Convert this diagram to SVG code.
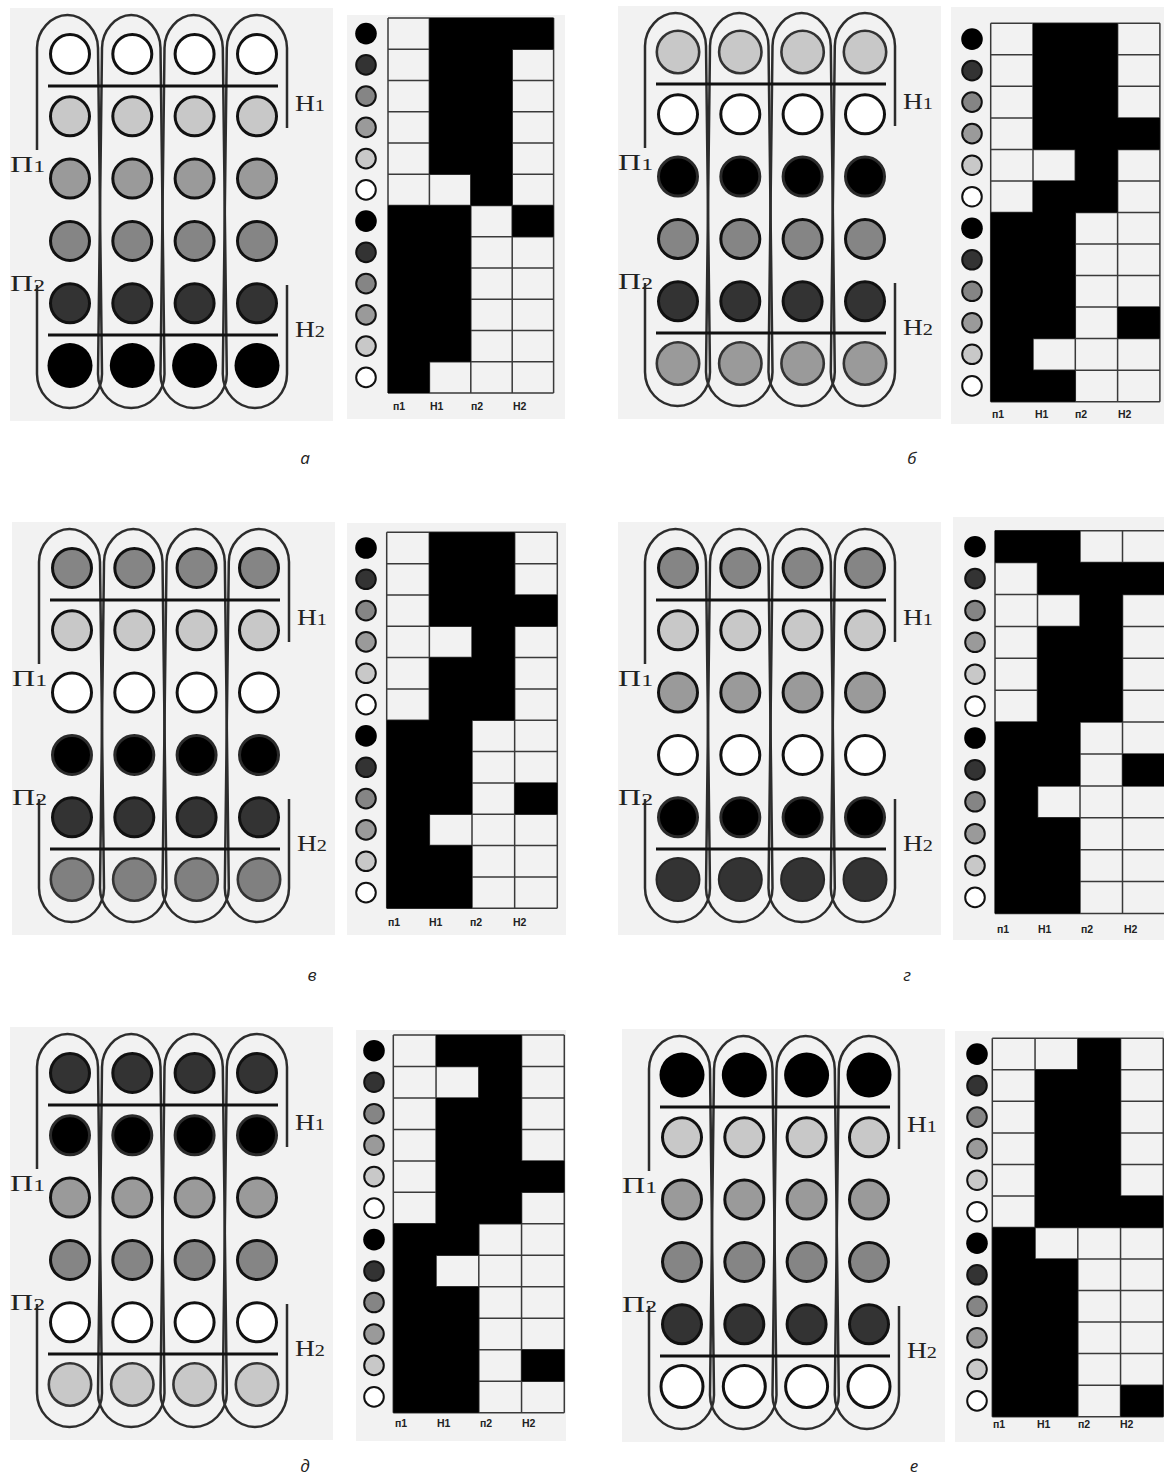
<svg xmlns="http://www.w3.org/2000/svg" xmlns:xlink="http://www.w3.org/1999/xlink" width="1164" height="1477" viewBox="0 0 1164 1477">
<style>
.bg{fill:#f2f2f2}
.loop{fill:none;stroke:#2d2d2d;stroke-width:2.5}
.hl{fill:none;stroke:#111;stroke-width:3}
.ck{stroke:#111;stroke-width:3}
.ckB{stroke:#2a2a2a;stroke-width:3}
.big{stroke:#333;stroke-width:2.6}
.fB{fill:#000}.fD{fill:#333}.fM{fill:#858585}.fG{fill:#9a9a9a}.fL{fill:#c8c8c8}.fW{fill:#fff}
.lg{stroke:#111;stroke-width:2}
.lab{font-family:"Liberation Serif","Times New Roman",serif;font-size:23px;fill:#222}
.sub{font-size:17px}
.col{font-family:"Liberation Sans",Arial,sans-serif;font-weight:bold;font-size:10.5px;fill:#222}
.cap{font-family:"Open Sans","DejaVu Sans",sans-serif;font-style:italic;font-size:17px;fill:#222;text-anchor:middle}
.cell{fill:#f2f2f2}
.blk{fill:#000}
.grid{fill:none;stroke:#3a3a3a;stroke-width:1.5;vector-effect:non-scaling-stroke}
</style>
<defs>
<circle id="cW" r="19.5" class="fW ck"/>
<circle id="cL" r="19.5" class="fL ck"/>
<circle id="cG" r="19.5" class="fG ck"/>
<circle id="cM" r="19.5" class="fM ck"/>
<circle id="cD" r="19.5" class="fD ck"/>
<circle id="cB" r="19.5" class="fB ckB"/>
<circle id="bB" r="22.5" class="fB"/>
<circle id="bL" r="21.2" class="fL big"/>
<circle id="bG" r="21.2" class="fG big"/>
<circle id="bM" r="21.2" fill="#808080" class="big"/>
<circle id="bD" r="21.5" fill="#333" stroke="#262626" stroke-width="2"/>
<circle id="bW" r="21" class="fW ck"/>
<g id="rW"><use href="#cW"/><use href="#cW" x="62.3"/><use href="#cW" x="124.6"/><use href="#cW" x="187"/></g>
<g id="rL"><use href="#cL"/><use href="#cL" x="62.3"/><use href="#cL" x="124.6"/><use href="#cL" x="187"/></g>
<g id="rG"><use href="#cG"/><use href="#cG" x="62.3"/><use href="#cG" x="124.6"/><use href="#cG" x="187"/></g>
<g id="rM"><use href="#cM"/><use href="#cM" x="62.3"/><use href="#cM" x="124.6"/><use href="#cM" x="187"/></g>
<g id="rD"><use href="#cD"/><use href="#cD" x="62.3"/><use href="#cD" x="124.6"/><use href="#cD" x="187"/></g>
<g id="rB"><use href="#cB"/><use href="#cB" x="62.3"/><use href="#cB" x="124.6"/><use href="#cB" x="187"/></g>
<g id="rbB"><use href="#bB"/><use href="#bB" x="62.3"/><use href="#bB" x="124.6"/><use href="#bB" x="187"/></g>
<g id="rbL"><use href="#bL"/><use href="#bL" x="62.3"/><use href="#bL" x="124.6"/><use href="#bL" x="187"/></g>
<g id="rbG"><use href="#bG"/><use href="#bG" x="62.3"/><use href="#bG" x="124.6"/><use href="#bG" x="187"/></g>
<g id="rbM"><use href="#bM"/><use href="#bM" x="62.3"/><use href="#bM" x="124.6"/><use href="#bM" x="187"/></g>
<g id="rbD"><use href="#bD"/><use href="#bD" x="62.3"/><use href="#bD" x="124.6"/><use href="#bD" x="187"/></g>
<g id="rbW"><use href="#bW"/><use href="#bW" x="62.3"/><use href="#bW" x="124.6"/><use href="#bW" x="187"/></g>
<g id="frame">
<rect class="bg" x="-60" y="-46" width="323" height="413"/>
<path class="loop" d="M-33,96 L-33,-6 C-33,-23 -19,-39 -2.5,-39 C14,-39 28,-23 28,-6 L32,320 C32,338 18,354 -0.5,354 C-19,354 -33,338 -33,320 L-33,231"/>
<path class="loop" d="M28,320 L32,-6 C32,-23 45.5,-39 61.25,-39 C77,-39 90.5,-23 90.5,-6 L94.5,320 C94.5,338 80,354 61.25,354 C42.5,354 28,338 28,320 Z"/>
<path class="loop" d="M90.5,320 L94.5,-6 C94.5,-23 108,-39 123.65,-39 C139.3,-39 152.8,-23 152.8,-6 L156.8,320 C156.8,338 142.3,354 123.65,354 C105,354 90.5,338 90.5,320 Z"/>
<path class="loop" d="M217,74 L217,-6 C217,-23 203.5,-39 186.9,-39 C170.3,-39 156.8,-23 156.8,-6 L152.8,320 C152.8,338 167,354 184.9,354 C202.8,354 217,338 217,320 L217,231"/>
<path class="hl" d="M-22,32 H208 M-22,281 H208"/>
<text class="lab" x="-60" y="118" textLength="35" lengthAdjust="spacingAndGlyphs">П<tspan class="sub">1</tspan></text>
<text class="lab" x="-60" y="237" textLength="35" lengthAdjust="spacingAndGlyphs">П<tspan class="sub">2</tspan></text>
<text class="lab" x="225" y="57" textLength="30" lengthAdjust="spacingAndGlyphs">Н<tspan class="sub">1</tspan></text>
<text class="lab" x="225" y="283" textLength="30" lengthAdjust="spacingAndGlyphs">Н<tspan class="sub">2</tspan></text>
</g>
<path id="gridp" class="grid" d="M0,0V12M1,0V12M2,0V12M3,0V12M4,0V12M0,0H4M0,1H4M0,2H4M0,3H4M0,4H4M0,5H4M0,6H4M0,7H4M0,8H4M0,9H4M0,10H4M0,11H4M0,12H4"/>
</defs>
<rect width="1164" height="1477" fill="#fff"/>

<!-- Panel а -->
<g id="scheme-a" transform="translate(70,54)">
<use href="#frame"/>
<use href="#rW"/><use href="#rL" y="62.3"/><use href="#rG" y="124.6"/><use href="#rM" y="187"/><use href="#rD" y="249.3"/><use href="#rbB" y="311.5"/>
</g>
<g id="table-a">
<rect class="bg" x="347" y="15" width="218" height="404"/>
<g transform="translate(388,18) scale(41.4,31.25)">
<rect class="cell" width="4" height="12"/>
<use href="#gridp"/>
<path class="blk" d="M0,6h1v6h-1z M1,0h1v5h-1z M1,6h1v5h-1z M2,0h1v6h-1z M3,0h1v1h-1z M3,6h1v1h-1z"/>
</g>
<g class="lg">
<circle class="fB" cx="366" cy="33.6" r="10.8" stroke="none"/><circle class="fD" cx="366" cy="64.9" r="9.8"/><circle class="fM" cx="366" cy="96.1" r="9.8"/><circle class="fG" cx="366" cy="127.4" r="9.8"/><circle class="fL" cx="366" cy="158.6" r="9.8"/><circle class="fW" cx="366" cy="189.9" r="9.8"/>
<circle class="fB" cx="366" cy="221.1" r="10.8" stroke="none"/><circle class="fD" cx="366" cy="252.4" r="9.8"/><circle class="fM" cx="366" cy="283.6" r="9.8"/><circle class="fG" cx="366" cy="314.9" r="9.8"/><circle class="fL" cx="366" cy="346.1" r="9.8"/><circle class="fW" cx="366" cy="377.4" r="9.8"/>
</g>
<text class="col" x="393" y="410">п1</text><text class="col" x="430" y="410">Н1</text><text class="col" x="471" y="410">п2</text><text class="col" x="513" y="410">Н2</text>
</g>
<text class="cap" x="305" y="464">а</text>

<!-- Panel б -->
<g id="scheme-b" transform="translate(678,52)">
<use href="#frame"/>
<use href="#rbL"/><use href="#rW" y="62.3"/><use href="#rB" y="124.6"/><use href="#rM" y="187"/><use href="#rD" y="249.3"/><use href="#rbG" y="311.5"/>
</g>
<g id="table-b">
<rect class="bg" x="951" y="7" width="213" height="417"/>
<g transform="translate(990.7,23.3) scale(42.3,31.53)">
<rect class="cell" width="4" height="12"/>
<use href="#gridp"/>
<path class="blk" d="M0,6h1v6h-1z M1,0h1v4h-1z M1,5h1v5h-1z M1,11h1v1h-1z M2,0h1v6h-1z M3,3h1v1h-1z M3,9h1v1h-1z"/>
</g>
<g class="lg">
<circle class="fB" cx="972" cy="39.1" r="10.8" stroke="none"/><circle class="fD" cx="972" cy="70.6" r="9.8"/><circle class="fM" cx="972" cy="102.1" r="9.8"/><circle class="fG" cx="972" cy="133.6" r="9.8"/><circle class="fL" cx="972" cy="165.2" r="9.8"/><circle class="fW" cx="972" cy="196.7" r="9.8"/>
<circle class="fB" cx="972" cy="228.2" r="10.8" stroke="none"/><circle class="fD" cx="972" cy="259.8" r="9.8"/><circle class="fM" cx="972" cy="291.3" r="9.8"/><circle class="fG" cx="972" cy="322.8" r="9.8"/><circle class="fL" cx="972" cy="354.3" r="9.8"/><circle class="fW" cx="972" cy="385.9" r="9.8"/>
</g>
<text class="col" x="992" y="418">п1</text><text class="col" x="1035" y="418">Н1</text><text class="col" x="1075" y="418">п2</text><text class="col" x="1118" y="418">Н2</text>
</g>
<text class="cap" x="912" y="464">б</text>

<!-- Panel в -->
<g id="scheme-v" transform="translate(72,568)">
<use href="#frame"/>
<use href="#rM"/><use href="#rL" y="62.3"/><use href="#rW" y="124.6"/><use href="#rB" y="187"/><use href="#rD" y="249.3"/><use href="#rbM" y="311.5"/>
</g>
<g id="table-v">
<rect class="bg" x="347" y="523" width="219" height="412"/>
<g transform="translate(386.7,532.3) scale(42.65,31.33)">
<rect class="cell" width="4" height="12"/>
<use href="#gridp"/>
<path class="blk" d="M0,6h1v6h-1z M1,0h1v3h-1z M1,4h1v5h-1z M1,10h1v2h-1z M2,0h1v6h-1z M3,2h1v1h-1z M3,8h1v1h-1z"/>
</g>
<g class="lg">
<circle class="fB" cx="366" cy="548" r="10.8" stroke="none"/><circle class="fD" cx="366" cy="579.3" r="9.8"/><circle class="fM" cx="366" cy="610.6" r="9.8"/><circle class="fG" cx="366" cy="641.9" r="9.8"/><circle class="fL" cx="366" cy="673.3" r="9.8"/><circle class="fW" cx="366" cy="704.6" r="9.8"/>
<circle class="fB" cx="366" cy="735.9" r="10.8" stroke="none"/><circle class="fD" cx="366" cy="767.3" r="9.8"/><circle class="fM" cx="366" cy="798.6" r="9.8"/><circle class="fG" cx="366" cy="829.9" r="9.8"/><circle class="fL" cx="366" cy="861.3" r="9.8"/><circle class="fW" cx="366" cy="892.6" r="9.8"/>
</g>
<text class="col" x="388" y="926">п1</text><text class="col" x="429" y="926">Н1</text><text class="col" x="470" y="926">п2</text><text class="col" x="513" y="926">Н2</text>
</g>
<text class="cap" x="312" y="981">в</text>

<!-- Panel г -->
<g id="scheme-g" transform="translate(678,568)">
<use href="#frame"/>
<use href="#rM"/><use href="#rL" y="62.3"/><use href="#rG" y="124.6"/><use href="#rW" y="187"/><use href="#rB" y="249.3"/><use href="#rbD" y="311.5"/>
</g>
<g id="table-g">
<rect class="bg" x="953" y="517" width="211" height="423"/>
<g transform="translate(995,530.7) scale(42.5,31.9)">
<rect class="cell" width="4" height="12"/>
<use href="#gridp"/>
<path class="blk" d="M0,0h1v1h-1z M0,6h1v6h-1z M1,0h1v2h-1z M1,3h1v5h-1z M1,9h1v3h-1z M2,1h1v5h-1z M3,1h1v1h-1z M3,7h1v1h-1z"/>
</g>
<g class="lg">
<circle class="fB" cx="975" cy="546.7" r="10.8" stroke="none"/><circle class="fD" cx="975" cy="578.6" r="9.8"/><circle class="fM" cx="975" cy="610.5" r="9.8"/><circle class="fG" cx="975" cy="642.3" r="9.8"/><circle class="fL" cx="975" cy="674.2" r="9.8"/><circle class="fW" cx="975" cy="706.1" r="9.8"/>
<circle class="fB" cx="975" cy="738" r="10.8" stroke="none"/><circle class="fD" cx="975" cy="769.9" r="9.8"/><circle class="fM" cx="975" cy="801.8" r="9.8"/><circle class="fG" cx="975" cy="833.7" r="9.8"/><circle class="fL" cx="975" cy="865.6" r="9.8"/><circle class="fW" cx="975" cy="897.4" r="9.8"/>
</g>
<text class="col" x="997" y="933">п1</text><text class="col" x="1038" y="933">Н1</text><text class="col" x="1081" y="933">п2</text><text class="col" x="1124" y="933">Н2</text>
</g>
<text class="cap" x="907" y="981">г</text>

<!-- Panel д -->
<g id="scheme-d" transform="translate(70,1073)">
<use href="#frame"/>
<use href="#rD"/><use href="#rB" y="62.3"/><use href="#rG" y="124.6"/><use href="#rM" y="187"/><use href="#rW" y="249.3"/><use href="#rbL" y="311.5"/>
</g>
<g id="table-d">
<rect class="bg" x="356" y="1030" width="210" height="411"/>
<g transform="translate(393.3,1035) scale(42.75,31.47)">
<rect class="cell" width="4" height="12"/>
<use href="#gridp"/>
<path class="blk" d="M0,6h1v6h-1z M1,0h1v1h-1z M1,2h1v5h-1z M1,8h1v4h-1z M2,0h1v6h-1z M3,4h1v1h-1z M3,10h1v1h-1z"/>
</g>
<g class="lg">
<circle class="fB" cx="374" cy="1050.7" r="10.8" stroke="none"/><circle class="fD" cx="374" cy="1082.2" r="9.8"/><circle class="fM" cx="374" cy="1113.7" r="9.8"/><circle class="fG" cx="374" cy="1145.2" r="9.8"/><circle class="fL" cx="374" cy="1176.6" r="9.8"/><circle class="fW" cx="374" cy="1208.1" r="9.8"/>
<circle class="fB" cx="374" cy="1239.6" r="10.8" stroke="none"/><circle class="fD" cx="374" cy="1271" r="9.8"/><circle class="fM" cx="374" cy="1302.5" r="9.8"/><circle class="fG" cx="374" cy="1334" r="9.8"/><circle class="fL" cx="374" cy="1365.4" r="9.8"/><circle class="fW" cx="374" cy="1396.9" r="9.8"/>
</g>
<text class="col" x="395" y="1427">п1</text><text class="col" x="437" y="1427">Н1</text><text class="col" x="480" y="1427">п2</text><text class="col" x="522" y="1427">Н2</text>
</g>
<text class="cap" x="305" y="1472">д</text>

<!-- Panel е -->
<g id="scheme-e" transform="translate(682,1075)">
<use href="#frame"/>
<use href="#rbB"/><use href="#rL" y="62.3"/><use href="#rG" y="124.6"/><use href="#rM" y="187"/><use href="#rD" y="249.3"/><use href="#rbW" y="311.5"/>
</g>
<g id="table-e">
<rect class="bg" x="955" y="1031" width="209" height="411"/>
<g transform="translate(992.3,1038.3) scale(42.75,31.53)">
<rect class="cell" width="4" height="12"/>
<use href="#gridp"/>
<path class="blk" d="M0,6h1v6h-1z M1,1h1v5h-1z M1,7h1v5h-1z M2,0h1v6h-1z M3,5h1v1h-1z M3,11h1v1h-1z"/>
</g>
<g class="lg">
<circle class="fB" cx="977" cy="1054.1" r="10.8" stroke="none"/><circle class="fD" cx="977" cy="1085.6" r="9.8"/><circle class="fM" cx="977" cy="1117.1" r="9.8"/><circle class="fG" cx="977" cy="1148.6" r="9.8"/><circle class="fL" cx="977" cy="1180.2" r="9.8"/><circle class="fW" cx="977" cy="1211.7" r="9.8"/>
<circle class="fB" cx="977" cy="1243.2" r="10.8" stroke="none"/><circle class="fD" cx="977" cy="1274.8" r="9.8"/><circle class="fM" cx="977" cy="1306.3" r="9.8"/><circle class="fG" cx="977" cy="1337.8" r="9.8"/><circle class="fL" cx="977" cy="1369.3" r="9.8"/><circle class="fW" cx="977" cy="1400.9" r="9.8"/>
</g>
<text class="col" x="993" y="1428">п1</text><text class="col" x="1037" y="1428">Н1</text><text class="col" x="1078" y="1428">п2</text><text class="col" x="1120" y="1428">Н2</text>
</g>
<text class="cap" x="914" y="1472">е</text>
</svg>
